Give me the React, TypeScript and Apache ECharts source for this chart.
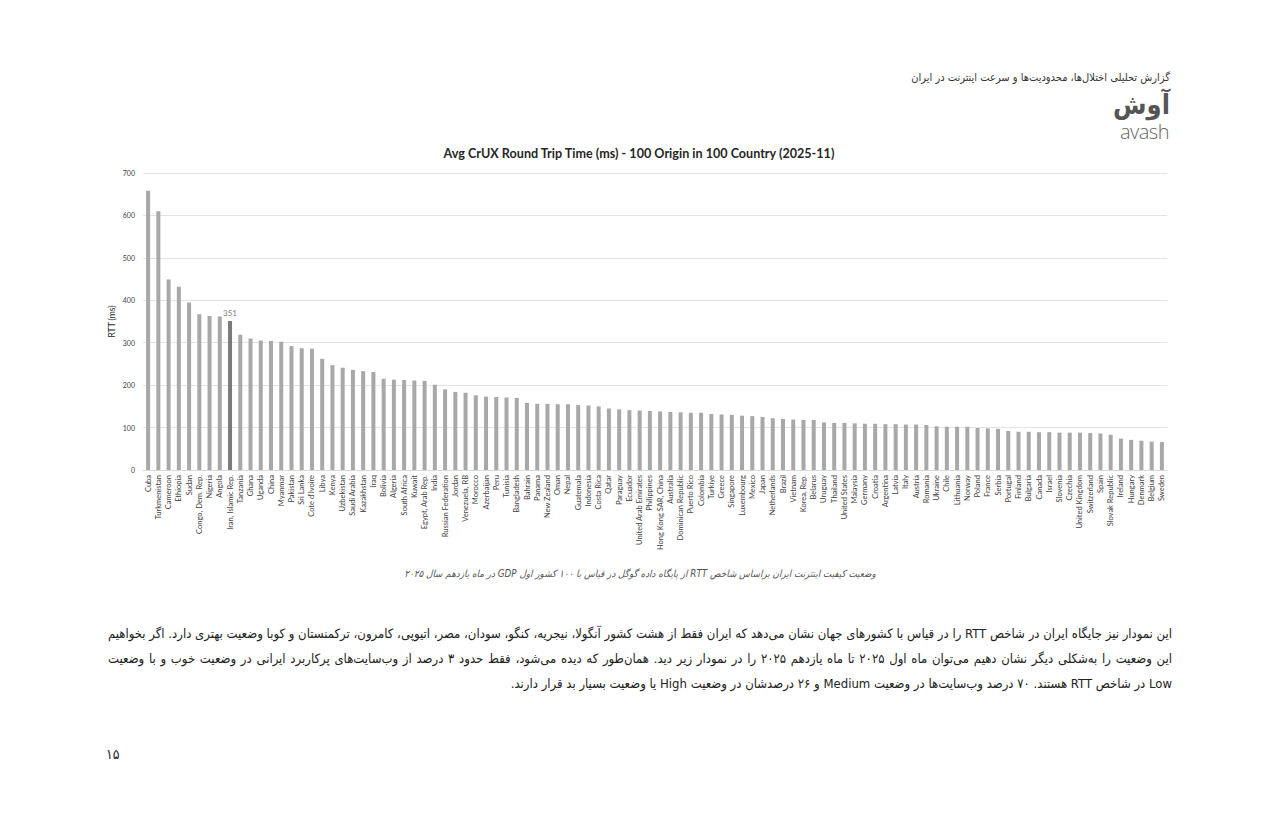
import React, { useEffect, useRef } from "react";
import * as echarts from "echarts";

const countries = [
  "Cuba", "Turkmenistan", "Cameroon", "Ethiopia", "Sudan", "Congo, Dem. Rep.", "Nigeria", "Angola", "Iran, Islamic Rep.", "Tanzania",
  "Ghana", "Uganda", "China", "Myanmar", "Pakistan", "Sri Lanka", "Cote d'Ivoire", "Libya", "Kenya", "Uzbekistan",
  "Saudi Arabia", "Kazakhstan", "Iraq", "Bolivia", "Algeria", "South Africa", "Kuwait", "Egypt, Arab Rep.", "India", "Russian Federation",
  "Jordan", "Venezuela, RB", "Morocco", "Azerbaijan", "Peru", "Tunisia", "Bangladesh", "Bahrain", "Panama", "New Zealand",
  "Oman", "Nepal", "Guatemala", "Indonesia", "Costa Rica", "Qatar", "Paraguay", "Ecuador", "United Arab Emirates", "Philippines",
  "Hong Kong SAR, China", "Australia", "Dominican Republic", "Puerto Rico", "Colombia", "Turkiye", "Greece", "Singapore", "Luxembourg", "Mexico",
  "Japan", "Netherlands", "Brazil", "Vietnam", "Korea, Rep.", "Belarus", "Uruguay", "Thailand", "United States", "Malaysia",
  "Germany", "Croatia", "Argentina", "Latvia", "Italy", "Austria", "Romania", "Ukraine", "Chile", "Lithuania",
  "Norway", "Poland", "France", "Serbia", "Portugal", "Finland", "Bulgaria", "Canada", "Israel", "Slovenia",
  "Czechia", "United Kingdom", "Switzerland", "Spain", "Slovak Republic", "Ireland", "Hungary", "Denmark", "Belgium", "Sweden",
];

const rtt = [
  658, 610, 449, 432, 395, 367, 363, 362, 351, 319,
  310, 305, 304, 302, 292, 287, 286, 262, 247, 241,
  236, 233, 231, 215, 213, 212, 211, 210, 201, 190,
  184, 182, 176, 173, 172, 171, 170, 158, 156, 156,
  155, 155, 153, 152, 150, 145, 143, 141, 140, 139,
  138, 137, 136, 135, 135, 132, 131, 130, 128, 127,
  125, 122, 120, 119, 118, 118, 112, 111, 111, 110,
  109, 109, 108, 108, 107, 107, 106, 103, 102, 102,
  102, 99, 98, 97, 92, 90, 90, 89, 89, 88,
  88, 88, 87, 86, 83, 74, 71, 69, 67, 66,
];

const highlightCountry = "Iran, Islamic Rep.";
const yTicks = { min: 0, max: 700, interval: 100 };

const chartTitle = "Avg CrUX Round Trip Time (ms) - 100 Origin in 100 Country (2025-11)";
const yAxisName = "RTT (ms)";

const headerText = "گزارش تحلیلی اختلال‌ها، محدودیت‌ها و سرعت اینترنت در ایران";
const logoFa = "آوش";
const logoEn = "avash";
const captionText = "وضعیت کیفیت اینترنت ایران براساس شاخص RTT از پایگاه داده گوگل در قیاس با ۱۰۰ کشور اول GDP در ماه یازدهم سال ۲۰۲۵";
const paragraphLines = [
  "این نمودار نیز جایگاه ایران در شاخص RTT را در قیاس با کشورهای جهان نشان می‌دهد که ایران فقط از هشت کشور آنگولا، نیجریه، کنگو، سودان، مصر، اتیوپی، کامرون، ترکمنستان و کوبا وضعیت بهتری دارد. اگر بخواهیم",
  "این وضعیت را به‌شکلی دیگر نشان دهیم می‌توان ماه اول ۲۰۲۵ تا ماه یازدهم ۲۰۲۵ را در نمودار زیر دید. همان‌طور که دیده می‌شود، فقط حدود ۳ درصد از وب‌سایت‌های پرکاربرد ایرانی در وضعیت خوب و با وضعیت",
  "Low در شاخص RTT هستند. ۷۰ درصد وب‌سایت‌ها در وضعیت Medium و ۲۶ درصدشان در وضعیت High یا وضعیت بسیار بد قرار دارند.",
];
const pageNumber = "۱۵";

const faFont = "'DejaVu Sans Condensed', 'DejaVu Sans', sans-serif";

export default function App() {
  const ref = useRef<HTMLDivElement>(null);

  useEffect(() => {
    if (!ref.current) return;
    const chart = echarts.init(ref.current, undefined, { renderer: "svg" });
    chart.setOption({
      animation: false,
      backgroundColor: "transparent",
      textStyle: { fontFamily: "Lato, 'Open Sans', sans-serif" },
      title: {
        text: chartTitle,
        left: 634,
        textAlign: "center",
        top: 142,
        textStyle: { fontSize: 12.6, fontWeight: "bold", color: "#262626", fontFamily: "Lato, sans-serif" },
      },
      grid: { left: 143, right: 113, top: 173, bottom: 357, containLabel: false },
      xAxis: {
        type: "category",
        data: countries,
        boundaryGap: true,
        axisLine: { show: true, lineStyle: { color: "#d9d9d9" } },
        axisTick: { show: false },
        axisLabel: { interval: 0, rotate: 90, fontSize: 7.5, color: "#404040", margin: 5 },
      },
      yAxis: {
        type: "value",
        min: yTicks.min,
        max: yTicks.max,
        interval: yTicks.interval,
        name: yAxisName,
        nameLocation: "middle",
        nameGap: 27,
        nameMoveOverlap: false,
        nameTextStyle: { fontSize: 8.5, color: "#262626" },
        axisLine: { show: false },
        axisTick: { show: false },
        axisLabel: { fontSize: 7, color: "#404040", margin: 8 },
        splitLine: { lineStyle: { color: "#e3e3e3", width: 1 } },
      },
      series: [
        {
          type: "bar",
          barWidth: 4,
          data: rtt.map((v, i) =>
            countries[i] === highlightCountry
              ? {
                  value: v,
                  itemStyle: { color: "#7a7a7a" },
                  label: { show: true, position: "top", fontSize: 8, color: "#7f7f7f", distance: 4 },
                }
              : { value: v }
          ),
          itemStyle: { color: "#a8a8a8" },
        },
      ],
    });
    return () => chart.dispose();
  }, []);

  return (
    <div style={{ position: "fixed", left: 0, top: 0, width: 1280, height: 827, background: "#fff", overflow: "hidden" }}>
      <div ref={ref} style={{ position: "absolute", left: 0, top: 0, width: 1280, height: 827 }} />
      <div
        dir="rtl"
        style={{ position: "absolute", right: 110, top: 71, fontFamily: faFont, fontSize: 11, color: "#333", whiteSpace: "nowrap" }}
      >
        {headerText}
      </div>
      <div
        dir="rtl"
        style={{ position: "absolute", right: 110, top: 91, fontFamily: faFont, fontSize: 27, fontWeight: "bold", color: "#555", lineHeight: "28px", whiteSpace: "nowrap" }}
      >
        {logoFa}
      </div>
      <div
        style={{ position: "absolute", right: 111, top: 122, fontFamily: "'Open Sans', sans-serif", fontSize: 20, fontWeight: 300, color: "#666", lineHeight: "19px", letterSpacing: -0.5 }}
      >
        {logoEn}
      </div>
      <div
        dir="rtl"
        style={{ position: "absolute", left: 340, width: 600, top: 568, textAlign: "center", fontFamily: faFont, fontSize: 9.8, fontStyle: "italic", color: "#555", whiteSpace: "nowrap" }}
      >
        {captionText}
      </div>
      {paragraphLines.map((line, i) => (
        <div
          key={i}
          dir="rtl"
          style={{
            position: "absolute",
            left: 108,
            width: 1064,
            top: 624 + i * 25,
            fontFamily: faFont,
            fontSize: 13,
            color: "#222",
            lineHeight: "20px",
            whiteSpace: "nowrap",
            textAlign: i < 2 ? "justify" : "right",
            textAlignLast: i < 2 ? "justify" : "right",
          } as React.CSSProperties}
        >
          {line}
        </div>
      ))}
      <div style={{ position: "absolute", left: 106, top: 746, fontFamily: faFont, fontSize: 14, color: "#222" }}>
        {pageNumber}
      </div>
    </div>
  );
}
